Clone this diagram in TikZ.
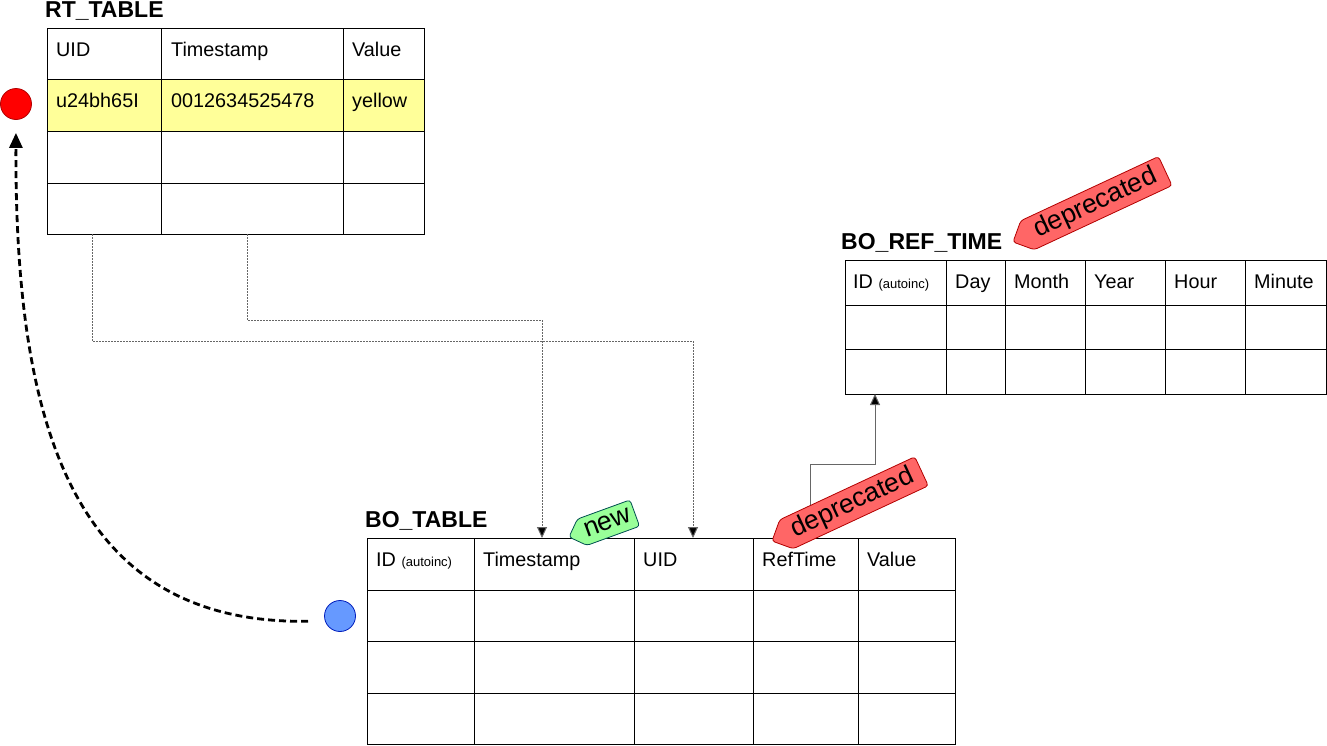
\documentclass[tikz,border=0pt]{standalone}
\usepackage{fontspec}
\setmainfont{Liberation Sans}
\usetikzlibrary{arrows.meta}
\definecolor{rowyellow}{HTML}{FFFF99}
\definecolor{linkgray}{HTML}{666666}
\definecolor{redfill}{HTML}{FF0000}
\definecolor{redline}{HTML}{B20000}
\definecolor{bluefill}{HTML}{6699FF}
\definecolor{blueline}{HTML}{001DBC}
\definecolor{tagred}{HTML}{FF6666}
\definecolor{taggreen}{HTML}{99FF99}
\definecolor{taggreenline}{HTML}{005050}
\begin{document}
\begin{tikzpicture}[x=1pt,y=-1pt,
  cell/.style={anchor=base west, inner sep=0pt, font=\fontsize{19.8}{22}\selectfont},
  title/.style={anchor=base west, inner sep=0pt, font=\fontsize{23}{26}\selectfont\bfseries},
  tablebox/.style={draw=black, line width=1pt, anchor=north west, inner sep=0pt, outer sep=0pt},
  gridline/.style={draw=black, line width=1pt},
  link/.style={draw=linkgray, line width=1pt, dash pattern=on 1.5pt off 1.5pt, -{Triangle[length=11pt,width=10pt,fill=black]}},
  solidlink/.style={draw=linkgray, line width=1pt, -{Triangle[length=11pt,width=10pt,fill=black]}},
  tagtext/.style={inner sep=0pt, transform shape, font=\fontsize{26.5}{28}\selectfont},
  small/.style={font=\fontsize{13}{15}\selectfont}
]
\useasboundingbox (0,0) rectangle (1327,745);

% ---------- RT_TABLE ----------
\node[title] (rt-title) at (45,17) {RT\_TABLE};
\fill[rowyellow] (47,79) rectangle (424,131);
\node[tablebox, minimum width=377pt, minimum height=206pt] (rt) at (47,28) {};
\foreach \y in {79,131,183} \draw[gridline] (47,\y) -- (424,\y);
\foreach \x in {161,343} \draw[gridline] (\x,28) -- (\x,234);
\node[cell] (rt-h1) at (56,56) {UID};
\node[cell] (rt-h2) at (171,56) {Timestamp};
\node[cell] (rt-h3) at (352,56) {Value};
\node[cell] (rt-c1) at (56,107) {u24bh65I};
\node[cell] (rt-c2) at (171,107) {0012634525478};
\node[cell] (rt-c3) at (352,107) {yellow};

% ---------- BO_REF_TIME ----------
\node[title] (ref-title) at (841,249) {BO\_REF\_TIME};
\node[tablebox, minimum width=481pt, minimum height=134pt] (ref) at (845,260) {};
\foreach \y in {305,349} \draw[gridline] (845,\y) -- (1326,\y);
\foreach \x in {946,1005,1085,1165,1245} \draw[gridline] (\x,260) -- (\x,394);
\node[cell] (ref-h1) at (853,288) {ID {\fontsize{13}{15}\selectfont(autoinc)}};
\node[cell] (ref-h2) at (955,288) {Day};
\node[cell] (ref-h3) at (1014,288) {Month};
\node[cell] (ref-h4) at (1094,288) {Year};
\node[cell] (ref-h5) at (1174,288) {Hour};
\node[cell] (ref-h6) at (1254,288) {Minute};

% ---------- BO_TABLE ----------
\node[title] (bo-title) at (365,527) {BO\_TABLE};
\node[tablebox, minimum width=588pt, minimum height=206pt] (bo) at (367,538) {};
\foreach \y in {590,641,693} \draw[gridline] (367,\y) -- (955,\y);
\foreach \x in {474,634,753,858} \draw[gridline] (\x,538) -- (\x,744);
\node[cell] (bo-h1) at (376,566) {ID {\fontsize{13}{15}\selectfont(autoinc)}};
\node[cell] (bo-h2) at (483,566) {Timestamp};
\node[cell] (bo-h3) at (643,566) {UID};
\node[cell] (bo-h4) at (762,566) {RefTime};
\node[cell] (bo-h5) at (867,566) {Value};

% ---------- connectors ----------
\coordinate (rt-uid-out) at (92,234);
\coordinate (rt-ts-out) at (247,234);
\coordinate (bo-uid-in) at (693,538);
\coordinate (bo-ts-in) at (542,538);
\coordinate (bo-ref-out) at (810,538);
\coordinate (ref-in) at (875,394);
\draw[link] (rt-uid-out) -- (92,341) -| (bo-uid-in);
\draw[link] (rt-ts-out) -- (247,320) -| (bo-ts-in);
\draw[solidlink] (bo-ref-out) -- (810,464) -| (ref-in);

% ---------- circles ----------
\node[circle, draw=redline, fill=redfill, line width=0.8pt, minimum size=31pt, inner sep=0pt] (red) at (16,104) {};
\node[circle, draw=blueline, fill=bluefill, line width=0.8pt, minimum size=31pt, inner sep=0pt] (blue) at (340,616) {};
\coordinate (curve-start) at (324,621);
\draw[line width=2.8pt, dash pattern=on 7pt off 4pt, shorten <=16pt, shorten >=13pt,
      -{Triangle[length=15pt,width=13pt]}]
  (curve-start) .. controls (70,625) and (15,420) .. (red.south);

% ---------- tags ----------
\begin{scope}[shift={(1013,242)}, rotate=25]
  \draw[fill=tagred, draw=redline, line width=0.8pt, rounded corners=3pt]
    (0,0) -- (16,-16) -- (168,-16) -- (168,16) -- (16,16) -- cycle;
  \node[tagtext] (tag-dep1) at (91,0) {deprecated};
\end{scope}
\begin{scope}[shift={(772,541)}, rotate=25]
  \draw[fill=tagred, draw=redline, line width=0.8pt, rounded corners=3pt]
    (0,0) -- (16,-16) -- (165,-16) -- (165,16) -- (16,16) -- cycle;
  \node[tagtext] (tag-dep2) at (89,0) {deprecated};
\end{scope}
\begin{scope}[shift={(569,537)}, rotate=20]
  \draw[fill=taggreen, draw=taggreenline, line width=0.8pt, rounded corners=3pt]
    (0,0) -- (14,-14) -- (70,-14) -- (70,14) -- (14,14) -- cycle;
  \node[tagtext] (tag-new) at (41,0) {new};
\end{scope}
\end{tikzpicture}
\end{document}
